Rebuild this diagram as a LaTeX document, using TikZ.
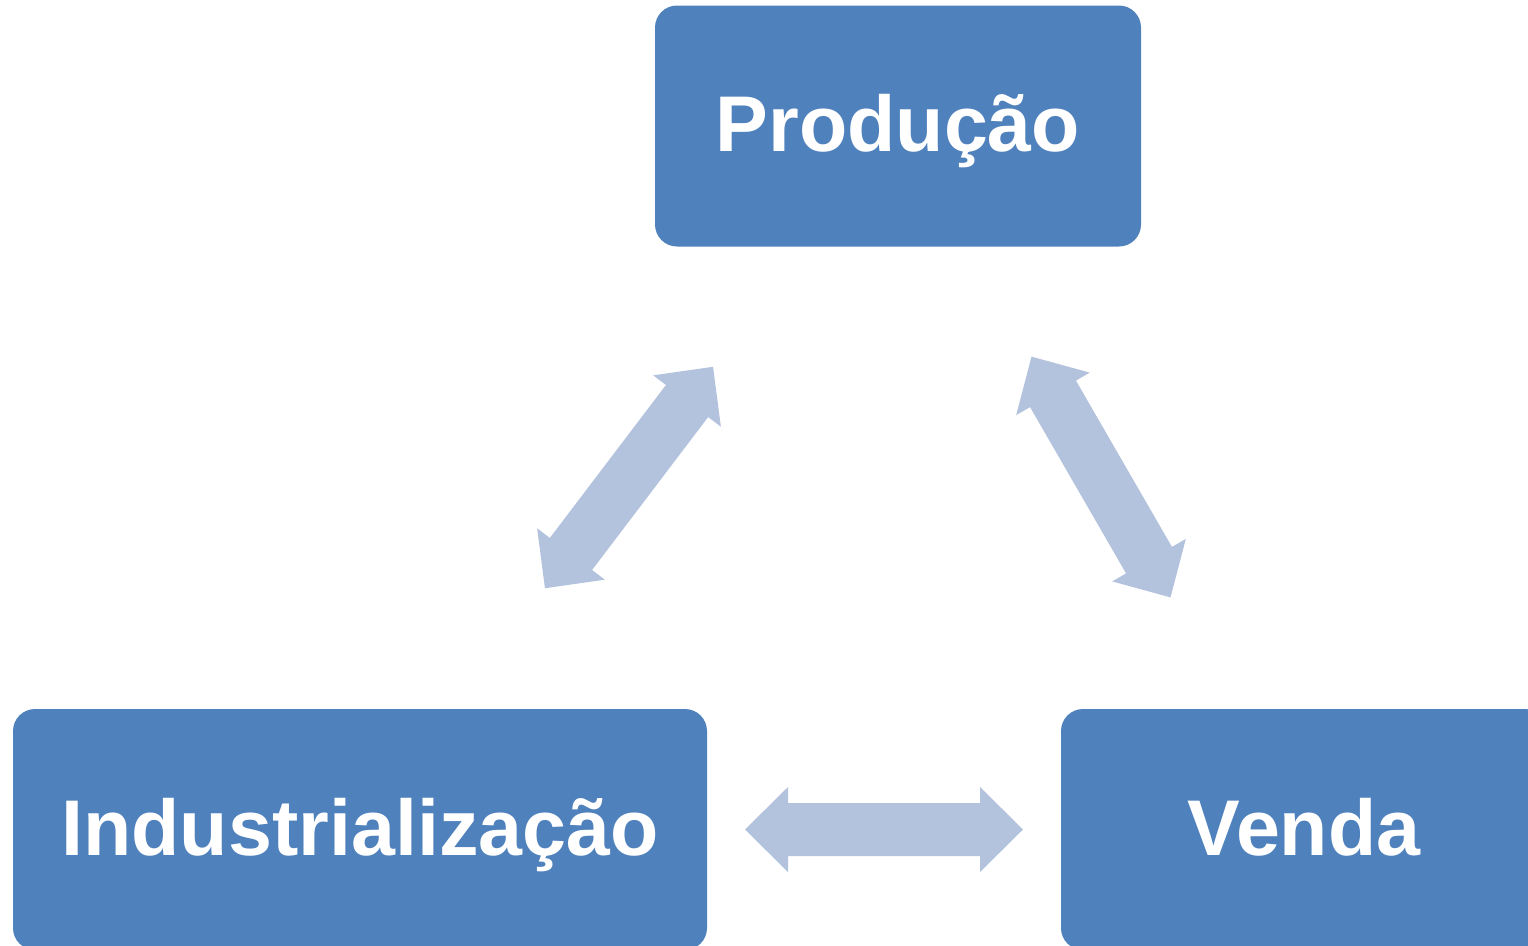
\documentclass[tikz,border=0pt]{standalone}
\usepackage{fontspec}
\setmainfont{Liberation Sans}
\definecolor{boxblue}{HTML}{4F81BD}
\definecolor{arrowblue}{HTML}{B3C2DD}
\tikzset{
  stagebox/.style={fill=boxblue, draw=none, rounded corners=22pt, inner sep=0pt,
    minimum height=241pt, text=white, text height=51pt, text depth=0pt,
    font=\fontsize{79}{90}\selectfont\bfseries},
  dblarrow/.pic={
    \fill[arrowblue] (-139,0) -- (-96,42.5) -- (-96,26.5) -- (96,26.5) -- (96,42.5)
      -- (139,0) -- (96,-42.5) -- (96,-26.5) -- (-96,-26.5) -- (-96,-42.5) -- cycle;
  }
}
\begin{document}
\begin{tikzpicture}[x=1pt,y=-1pt]
\useasboundingbox (0,0) rectangle (1528,945);
\begin{scope}
\clip (0,0) rectangle (1528,945);
\node[stagebox, minimum width=486pt] (prod) at (898,126) {Produção};
\node[stagebox, minimum width=694pt] (ind) at (360,829.5) {Industrialização};
\node[stagebox, minimum width=486pt] (venda) at (1304,829.5) {Venda};
\end{scope}
\pic[rotate=52.8] (a1) at (629,477.5) {dblarrow};
\pic[rotate=-60] (a2) at (1101,477) {dblarrow};
\pic (a3) at (884,829.5) {dblarrow};
\end{tikzpicture}
\end{document}
